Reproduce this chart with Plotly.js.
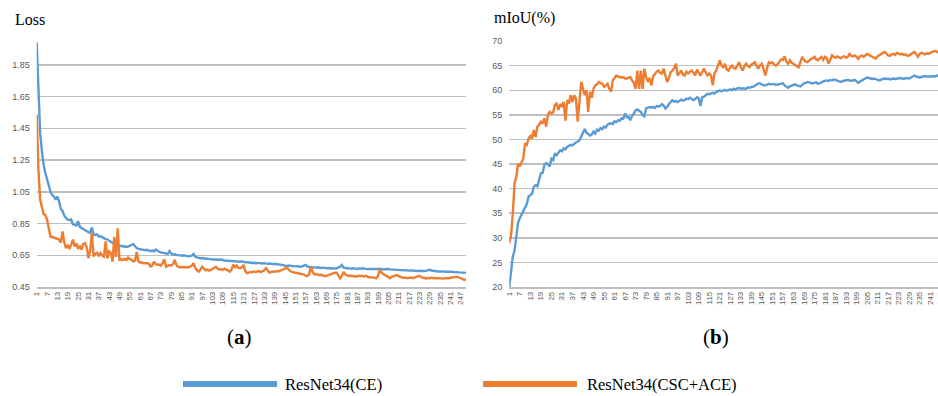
<!DOCTYPE html>
<html>
<head>
<meta charset="utf-8">
<script src="https://cdn.plot.ly/plotly-3.0.1.min.js"></script>
<style>
  html, body { margin: 0; padding: 0; overflow: hidden; background: #fff; }
  #chart { width: 950px; height: 396px; }
</style>
</head>
<body>
<div id="chart"></div>
<script>
// ---------------- data ----------------
const seriesNames = ["ResNet34(CE)", "ResNet34(CSC+ACE)"];
const panelTitles = ["Loss", "mIoU(%)"];
const panelLabels = ["a", "b"];

const lossCE = [
  1.99, 1.65, 1.42, 1.31, 1.22, 1.17, 1.13, 1.09, 1.05, 1.03,
  1.02, 1.00, 1.02, 0.99, 0.94, 0.93, 0.90, 0.885, 0.875, 0.872,
  0.875, 0.845, 0.84, 0.838, 0.865, 0.83, 0.822, 0.815, 0.808, 0.80,
  0.795, 0.792, 0.826, 0.78, 0.778, 0.782, 0.768, 0.77, 0.762, 0.758,
  0.752, 0.75, 0.742, 0.735, 0.73, 0.722, 0.715, 0.718, 0.708, 0.71,
  0.705, 0.707, 0.702, 0.705, 0.708, 0.715, 0.72, 0.705, 0.695, 0.69,
  0.688, 0.685, 0.686, 0.682, 0.684, 0.679, 0.676, 0.68, 0.675, 0.686,
  0.678, 0.672, 0.668, 0.665, 0.663, 0.66, 0.658, 0.677, 0.66, 0.655,
  0.656, 0.652, 0.65, 0.651, 0.648, 0.65, 0.646, 0.645, 0.643, 0.645,
  0.648, 0.658, 0.64, 0.636, 0.632, 0.63, 0.633, 0.63, 0.628, 0.629,
  0.627, 0.624, 0.626, 0.622, 0.625, 0.62, 0.623, 0.619, 0.62, 0.617,
  0.616, 0.615, 0.613, 0.611, 0.61, 0.612, 0.608, 0.61, 0.609, 0.612,
  0.607, 0.605, 0.606, 0.603, 0.604, 0.601, 0.603, 0.6, 0.602, 0.6,
  0.599, 0.598, 0.6, 0.597, 0.596, 0.598, 0.595, 0.594, 0.596, 0.595,
  0.593, 0.592, 0.59, 0.588, 0.584, 0.582, 0.585, 0.583, 0.581, 0.582,
  0.58, 0.581, 0.579, 0.578, 0.58, 0.583, 0.589, 0.578, 0.576, 0.574,
  0.575, 0.573, 0.572, 0.574, 0.571, 0.57, 0.572, 0.569, 0.568, 0.57,
  0.568, 0.567, 0.569, 0.566, 0.568, 0.572, 0.578, 0.589, 0.572, 0.57,
  0.568, 0.567, 0.566, 0.568, 0.565, 0.566, 0.564, 0.567, 0.565, 0.568,
  0.566, 0.564, 0.563, 0.565, 0.562, 0.564, 0.563, 0.561, 0.563, 0.565,
  0.562, 0.56, 0.562, 0.564, 0.563, 0.561, 0.56, 0.558, 0.559, 0.557,
  0.558, 0.556, 0.557, 0.555, 0.556, 0.554, 0.553, 0.555, 0.553, 0.552,
  0.553, 0.551, 0.552, 0.553, 0.551, 0.55, 0.552, 0.555, 0.558, 0.554,
  0.551, 0.55, 0.549, 0.548, 0.549, 0.547, 0.548, 0.546, 0.547, 0.546,
  0.545, 0.546, 0.544, 0.545, 0.543, 0.542, 0.541, 0.54, 0.541, 0.539
];

const lossCSC = [
  1.537, 1.19, 1.00, 0.946, 0.91, 0.904, 0.875, 0.82, 0.768, 0.765,
  0.762, 0.758, 0.752, 0.749, 0.73, 0.80, 0.73, 0.695, 0.716, 0.69,
  0.715, 0.749, 0.705, 0.726, 0.69, 0.71, 0.685, 0.72, 0.726, 0.70,
  0.632, 0.68, 0.79, 0.643, 0.66, 0.665, 0.648, 0.665, 0.648, 0.642,
  0.737, 0.63, 0.674, 0.665, 0.61, 0.764, 0.64, 0.82, 0.622, 0.625,
  0.62, 0.628, 0.62, 0.635, 0.625, 0.622, 0.612, 0.615, 0.67, 0.612,
  0.603, 0.606, 0.60, 0.602, 0.60, 0.598, 0.58, 0.585, 0.61, 0.595,
  0.59, 0.592, 0.585, 0.60, 0.625, 0.578, 0.582, 0.588, 0.585, 0.592,
  0.62, 0.59, 0.578, 0.574, 0.576, 0.575, 0.572, 0.575, 0.574, 0.578,
  0.585, 0.60, 0.57, 0.555, 0.547, 0.56, 0.578, 0.565, 0.555, 0.56,
  0.553, 0.558, 0.565, 0.57, 0.578, 0.565, 0.56, 0.562, 0.558, 0.565,
  0.56, 0.555, 0.547, 0.56, 0.59, 0.575, 0.585, 0.57, 0.568, 0.575,
  0.589, 0.55, 0.536, 0.54, 0.545, 0.543, 0.548, 0.545, 0.546, 0.55,
  0.544, 0.548, 0.555, 0.568, 0.55, 0.54, 0.545, 0.548, 0.546, 0.55,
  0.548, 0.552, 0.555, 0.56, 0.565, 0.573, 0.558, 0.55, 0.545, 0.54,
  0.54, 0.538, 0.535, 0.532, 0.53, 0.528, 0.52, 0.519, 0.53, 0.578,
  0.545, 0.53, 0.532, 0.528, 0.525, 0.527, 0.522, 0.519, 0.52, 0.525,
  0.53, 0.535, 0.538, 0.54, 0.54, 0.525, 0.505, 0.52, 0.545, 0.53,
  0.525, 0.519, 0.522, 0.518, 0.52, 0.515, 0.518, 0.521, 0.519, 0.52,
  0.516, 0.52, 0.515, 0.51, 0.512, 0.508, 0.505, 0.505, 0.52, 0.56,
  0.54, 0.53, 0.525, 0.52, 0.51, 0.505, 0.515, 0.52, 0.522, 0.525,
  0.518, 0.512, 0.51, 0.508, 0.51, 0.505, 0.507, 0.51, 0.506, 0.509,
  0.512, 0.515, 0.52, 0.512, 0.508, 0.506, 0.504, 0.507, 0.505, 0.51,
  0.505, 0.507, 0.503, 0.506, 0.504, 0.505, 0.503, 0.506, 0.504, 0.505,
  0.508, 0.51, 0.512, 0.514, 0.515, 0.51, 0.505, 0.498, 0.494, 0.50
];

const miouCE = [
  20.0, 23.5, 26.2, 27.4, 30.3, 33.1, 34.0, 34.8, 35.4, 36.4,
  36.9, 38.4, 38.7, 39.0, 40.4, 40.7, 40.5, 42.0, 43.1, 43.2,
  44.8, 45.2, 45.0, 44.5, 46.1, 45.8, 47.2, 46.8, 47.3, 47.8,
  47.6, 48.2, 48.0, 48.5, 48.7, 48.9, 48.8, 49.2, 49.4, 49.6,
  49.8, 50.6, 51.5, 52.1, 51.4, 51.0, 50.8, 51.0, 51.6, 51.2,
  52.0, 51.8, 52.3, 52.1, 52.6, 52.4, 53.0, 53.2, 53.3, 53.1,
  53.7, 53.5, 53.9, 53.8, 54.3, 54.2, 55.3, 54.5, 54.6, 53.9,
  54.8, 55.2, 55.9, 56.1, 55.9, 55.6, 55.0, 54.7, 56.3, 56.4,
  56.6, 56.5, 56.6, 56.4, 56.8, 56.7, 56.8, 57.2, 56.9, 56.3,
  56.6, 57.2, 57.6, 58.0, 57.7, 57.8, 57.6, 57.8, 58.1, 57.9,
  58.0, 58.3, 58.2, 58.5, 58.3, 58.0, 58.2, 58.6, 58.4, 56.8,
  58.6, 58.7, 59.0, 59.3, 59.2, 59.4, 59.5, 59.3, 59.7, 59.8,
  60.0, 59.8, 59.9, 60.1, 59.9, 60.0, 60.2, 60.0, 60.3, 60.1,
  60.4, 60.5, 60.3, 60.4, 60.3, 60.3, 60.6, 60.5, 60.7, 60.7,
  60.9, 61.1, 61.4, 61.4, 61.2, 61.0, 61.0, 61.2, 61.3, 61.2,
  61.2, 61.3, 61.1, 61.2, 61.2, 61.3, 61.4, 61.0, 60.8, 60.5,
  60.8, 60.9, 61.0, 61.2, 61.0, 60.9, 60.8, 61.1, 61.4, 61.5,
  61.7, 61.6, 61.5, 61.4, 61.5, 61.6, 61.3, 61.4, 61.6, 61.8,
  61.9, 62.0, 61.9, 62.1, 62.0, 62.2, 62.1, 61.9, 61.8, 61.7,
  61.9, 62.0, 62.0, 62.1, 62.0, 61.9, 62.0, 62.1, 61.8, 61.5,
  61.8, 62.0, 62.2, 62.4, 62.6, 62.5, 62.4, 62.3, 62.4, 62.2,
  62.1, 62.0, 62.2, 62.3, 62.4, 62.3, 62.4, 62.2, 62.3, 62.4,
  62.3, 62.4, 62.5, 62.5, 62.4, 62.3, 62.5, 62.5, 62.4, 62.6,
  62.8, 63.0, 62.8, 62.7, 62.6, 62.7, 62.8, 62.9, 62.8, 62.8,
  62.7, 62.8, 62.9, 62.8, 63.0, 62.9, 62.8, 62.9, 63.0, 63.0
];

const miouCSC = [
  28.9, 30.5, 35.0, 41.1, 42.4, 45.1, 44.5, 45.5, 46.2, 49.2,
  48.9, 50.2, 50.7, 50.2, 51.9, 50.5, 52.6, 53.0, 53.6, 53.2,
  54.3, 52.6, 55.0, 55.6, 55.3, 55.5, 57.0, 57.3, 56.0, 57.2,
  56.8, 57.6, 53.8, 58.0, 57.3, 59.0, 57.6, 59.0, 58.3, 53.6,
  58.5, 61.7, 60.3, 59.0, 60.0, 55.6, 59.7, 58.5, 60.3, 61.0,
  61.2, 61.7, 61.4, 61.4, 60.7, 61.0, 61.3, 60.3, 59.7, 62.0,
  62.5, 63.0, 62.8, 62.7, 62.6, 62.7, 62.4, 62.4, 62.6, 62.7,
  62.0, 61.5, 60.3, 64.0, 60.3, 64.0, 60.3, 64.4, 62.7, 61.7,
  62.5, 61.0, 62.8, 63.4, 63.8, 64.0, 63.5, 63.4, 64.4, 63.0,
  61.7, 62.5, 63.7, 64.0, 64.5, 65.4, 63.0, 63.5, 64.0, 63.2,
  63.0, 63.8, 63.4, 63.8, 64.0, 63.6, 63.0, 64.2, 63.5, 63.0,
  63.7, 64.4, 63.6, 63.0, 63.4, 63.0, 61.0, 63.5, 64.0, 65.0,
  66.1, 65.0, 64.7, 65.4, 64.2, 64.0, 64.7, 65.0, 64.5, 64.4,
  65.0, 65.7, 64.8, 64.0, 64.8, 65.4, 64.9, 64.7, 65.2, 65.5,
  65.7, 65.0, 64.4, 65.1, 65.4, 64.3, 63.0, 64.5, 65.7, 65.5,
  65.7, 65.2, 65.0, 65.3, 65.7, 66.3, 66.2, 66.9, 65.8, 65.4,
  66.1, 65.6, 65.4, 65.1, 64.9, 64.7, 65.6, 66.8, 66.2, 65.8,
  65.7, 66.1, 66.4, 66.5, 66.8, 66.3, 66.1, 66.5, 66.8, 66.2,
  66.8, 66.5, 65.4, 66.2, 67.1, 66.8, 66.6, 66.9, 66.7, 66.5,
  66.8, 66.9, 66.6, 66.8, 67.4, 67.0, 66.9, 67.1, 66.8, 66.4,
  66.9, 67.1, 66.8, 67.2, 67.4, 67.2, 67.0, 66.8, 66.6, 66.4,
  66.9, 67.2, 67.5, 67.6, 67.8, 67.4, 67.1, 67.0, 67.3, 67.4,
  67.2, 67.6, 67.5, 67.3, 67.4, 67.2, 67.3, 67.0, 67.1, 67.4,
  67.6, 67.8, 67.3, 66.8, 67.4, 67.6, 67.5, 67.3, 67.5, 67.4,
  67.6, 67.8, 67.9, 68.0, 67.8, 67.6, 67.8, 67.7, 67.9, 68.0
];

const epochs = lossCE.map((_, i) => i + 1);
const xTickVals = epochs.filter(e => (e - 1) % 6 === 0);
const xTickText = xTickVals.map(String);
const lossTicks = [0.45, 0.65, 0.85, 1.05, 1.25, 1.45, 1.65, 1.85];
const miouTicks = [20, 25, 30, 35, 40, 45, 50, 55, 60, 65, 70];

// ---------------- styling ----------------
const BLUE = "#5B9BD5", ORANGE = "#ED7D31";
const GRID = "#bfbfbf", TICK = "#595959";
const W = 950, H = 396;
const px = v => v / W, py = v => 1 - v / H;

const traces = [
  {x: epochs, y: lossCE, xaxis: "x", yaxis: "y", type: "scatter", mode: "lines",
   line: {color: BLUE, width: 2.4}, name: seriesNames[0], showlegend: false},
  {x: epochs, y: lossCSC, xaxis: "x", yaxis: "y", type: "scatter", mode: "lines",
   line: {color: ORANGE, width: 2.4}, name: seriesNames[1], showlegend: false},
  {x: epochs, y: miouCE, xaxis: "x2", yaxis: "y2", type: "scatter", mode: "lines",
   line: {color: BLUE, width: 2.4}, name: seriesNames[0], showlegend: false},
  {x: epochs, y: miouCSC, xaxis: "x2", yaxis: "y2", type: "scatter", mode: "lines",
   line: {color: ORANGE, width: 2.4}, name: seriesNames[1], showlegend: false}
];

const xCommon = {
  tickmode: "array", tickvals: xTickVals, ticktext: xTickText, tickangle: -90,
  tickfont: {family: "Liberation Sans, Arial, sans-serif", size: 8, color: TICK},
  showgrid: false, zeroline: false, showline: true, linecolor: GRID, linewidth: 1.5,
  ticks: "", fixedrange: true
};
const yCommon = {
  showgrid: true, gridcolor: GRID, gridwidth: 1.5, zeroline: false, showline: false,
  tickfont: {family: "Liberation Sans, Arial, sans-serif", size: 9, color: TICK},
  ticks: "", ticklabelstandoff: 6, fixedrange: true
};
const yDom = [py(287), py(41)];

const layout = {
  width: W, height: H,
  margin: {l: 0, r: 0, t: 0, b: 0},
  paper_bgcolor: "#fff", plot_bgcolor: "#fff",
  showlegend: false,
  xaxis: Object.assign({}, xCommon, {domain: [px(36.7), px(466)], range: [1, 250], anchor: "y"}),
  yaxis: Object.assign({}, yCommon, {domain: yDom, range: [0.45, 2.0], tickmode: "array",
    tickvals: lossTicks, ticktext: lossTicks.map(v => v.toFixed(2)), anchor: "x"}),
  xaxis2: Object.assign({}, xCommon, {domain: [px(509.3), px(946)], range: [1, 250], anchor: "y2"}),
  yaxis2: Object.assign({}, yCommon, {domain: yDom, range: [20, 70.02], tickmode: "array",
    tickvals: miouTicks, ticktext: miouTicks.map(String), anchor: "x2"}),
  annotations: [
    {xref: "paper", yref: "paper", x: px(13), y: py(19), xanchor: "left", yanchor: "middle",
     text: panelTitles[0], showarrow: false,
     font: {family: "Liberation Serif, serif", size: 16, color: "#000"}},
    {xref: "paper", yref: "paper", x: px(492), y: py(18), xanchor: "left", yanchor: "middle",
     text: panelTitles[1], showarrow: false,
     font: {family: "Liberation Serif, serif", size: 16, color: "#000"}},
    {xref: "paper", yref: "paper", x: px(239), y: py(337), xanchor: "center", yanchor: "middle",
     text: "(<b>" + panelLabels[0] + "</b>)", showarrow: false,
     font: {family: "Liberation Serif, serif", size: 21, color: "#000"}},
    {xref: "paper", yref: "paper", x: px(716), y: py(337), xanchor: "center", yanchor: "middle",
     text: "(<b>" + panelLabels[1] + "</b>)", showarrow: false,
     font: {family: "Liberation Serif, serif", size: 21, color: "#000"}},
    {xref: "paper", yref: "paper", x: px(283), y: py(384), xanchor: "left", yanchor: "middle",
     text: seriesNames[0], showarrow: false,
     font: {family: "Liberation Serif, serif", size: 16.5, color: "#000"}},
    {xref: "paper", yref: "paper", x: px(585), y: py(384), xanchor: "left", yanchor: "middle",
     text: seriesNames[1], showarrow: false,
     font: {family: "Liberation Serif, serif", size: 16.5, color: "#000"}}
  ],
  shapes: [
    {type: "line", xref: "paper", yref: "paper", x0: px(183), x1: px(277), y0: py(384), y1: py(384),
     line: {color: BLUE, width: 6}},
    {type: "line", xref: "paper", yref: "paper", x0: px(483), x1: px(577), y0: py(384), y1: py(384),
     line: {color: ORANGE, width: 6}}
  ]
};

Plotly.newPlot("chart", traces, layout, {displayModeBar: false, staticPlot: true});
</script>
</body>
</html>
